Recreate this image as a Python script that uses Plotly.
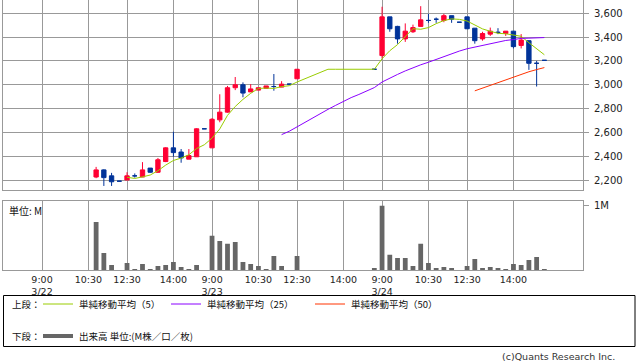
import plotly.graph_objects as go
import pandas as pd

# ---- data (15-minute bars; slot 0 = 3/22 9:00, 22 slots per day) ----
bar_slot = [7, 8, 9, 10, 11, 12, 13, 14, 15, 16, 17, 18, 19, 20, 21,
            22, 23, 24, 25, 26, 27, 28, 29, 30, 31, 32, 33,
            43,
            44, 45, 46, 47, 48, 49, 50, 51, 52, 53, 54, 55, 56, 57, 58, 59, 60, 61, 62, 63, 64, 65]
open_ = [2225, 2285, 2235, 2190, 2200, 2235, 2225, 2300, 2265, 2355, 2470, 2435, 2375, 2395, 2630,
         2470, 2705, 2770, 2975, 3000, 2940, 2955, 2970, 2985, 2980, 3005, 3050,
         3130,
         3245, 3570, 3490, 3385, 3445, 3490, 3540, 3550, 3540, 3580, 3525, 3570, 3475, 3385, 3425, 3440, 3430, 3450, 3330, 3370, 3180, 3205]
high = [2310, 2290, 2260, 2190, 2265, 2255, 2350, 2300, 2385, 2475, 2605, 2460, 2460, 2635, 2630,
        2720, 2920, 2990, 3065, 3020, 3005, 2975, 2990, 3090, 3030, 3005, 3130,
        3130,
        3655, 3570, 3495, 3515, 3505, 3660, 3595, 3565, 3595, 3580, 3525, 3570, 3475, 3445, 3480, 3475, 3450, 3450, 3425, 3375, 3200, 3205]
low = [2215, 2150, 2150, 2190, 2200, 2220, 2225, 2260, 2260, 2350, 2395, 2345, 2375, 2395, 2630,
       2470, 2685, 2765, 2955, 2895, 2940, 2955, 2970, 2950, 2980, 3005, 3050,
       3130,
       3220, 3445, 3345, 3360, 3435, 3490, 3520, 3520, 3525, 3520, 3525, 3470, 3345, 3370, 3410, 3425, 3410, 3305, 3305, 3125, 2985, 3205]
close = [2285, 2220, 2185, 2190, 2235, 2235, 2285, 2265, 2370, 2470, 2430, 2385, 2405, 2630, 2630,
         2710, 2770, 2975, 3000, 2930, 2965, 2975, 2990, 2985, 3005, 3005, 3130,
         3130,
         3570, 3470, 3385, 3450, 3480, 3545, 3540, 3550, 3580, 3550, 3525, 3470, 3370, 3430, 3450, 3440, 3450, 3320, 3375, 3180, 3180, 3205]
volume = [0.75, 0.27, 0.083, 0.005, 0.114, 0.02, 0.098, 0.02, 0.067, 0.083, 0.13, 0.052, 0.02, 0.083, 0.005,
          0.534, 0.456, 0.41, 0.44, 0.13, 0.098, 0.067, 0.02, 0.223, 0.067, 0.005, 0.223,
          0.036,
          1.0, 0.24, 0.19, 0.19, 0.067, 0.41, 0.114, 0.036, 0.052, 0.036, 0.005, 0.067, 0.176, 0.036, 0.052, 0.036, 0.02, 0.098, 0.083, 0.16, 0.207, 0.02]

tick_slots = [0, 6, 11, 17, 22, 28, 33, 39, 44, 50, 55, 61]
tick_text = ["9:00<br>3/22", "10:30", "12:30", "14:00", "9:00<br>3/23", "10:30", "12:30", "14:00",
             "9:00<br>3/24", "10:30", "12:30", "14:00"]
price_ticks = [2200, 2400, 2600, 2800, 3000, 3200, 3400, 3600]
price_tick_text = ["2,200", "2,400", "2,600", "2,800", "3,000", "3,200", "3,400", "3,600"]
ma_periods = [5, 25, 50]
ma_colors = ["#99CC00", "#8A00FF", "#FF3300"]
ma_labels = ["単純移動平均（5）", "単純移動平均（25）", "単純移動平均（50）"]

RED = "#FF0033"
BLUE = "#003399"
GRID = "#999999"
W, H = 638, 362


def px(x):
    return x / W


def py(y):
    return 1 - y / H


df = pd.DataFrame(dict(slot=bar_slot, o=open_, h=high, l=low, c=close, v=volume))
full = pd.Series(index=range(min(bar_slot), max(bar_slot) + 1), dtype=float)
full.loc[df.slot] = df.c.values
full = full.ffill()

fig = go.Figure()

up = df[df.c > df.o]
dn = df[df.c <= df.o]
for sub, col in ((up, RED), (dn, BLUE)):
    fig.add_trace(go.Candlestick(
        x=sub.slot, open=sub.o, high=sub.h, low=sub.l, close=sub.c,
        increasing=dict(line=dict(color=col, width=1), fillcolor=col),
        decreasing=dict(line=dict(color=col, width=1), fillcolor=col),
        whiskerwidth=0, xaxis="x", yaxis="y", hoverinfo="skip"))

for p, col in zip(ma_periods, ma_colors):
    ma = full.rolling(p).mean()
    fig.add_trace(go.Scatter(x=list(full.index), y=ma.values, mode="lines",
                             line=dict(color=col, width=1), xaxis="x", yaxis="y",
                             hoverinfo="skip"))

fig.add_trace(go.Bar(x=df.slot, y=df.v, width=0.62, marker=dict(color="#666666", line=dict(width=0)),
                     xaxis="x2", yaxis="y2", hoverinfo="skip"))

xr = [-5.05, 70.0]
tfont = dict(family="DejaVu Sans", size=10, color="#222222")
common_x = dict(domain=[px(3), px(583)], range=xr, tickvals=tick_slots, showgrid=True,
                gridcolor=GRID, gridwidth=1, zeroline=False, showline=True, linecolor=GRID,
                linewidth=1, fixedrange=True, rangeslider=dict(visible=False))

fig.update_layout(
    width=W, height=H, autosize=False,
    margin=dict(l=0, r=0, t=0, b=0),
    paper_bgcolor="white", plot_bgcolor="white",
    showlegend=False, boxgap=0.2,
    xaxis=dict(**common_x, anchor="y", showticklabels=False, ticks=""),
    yaxis=dict(domain=[py(190.3), 1], range=[2113.5, 3711.7], side="right", anchor="x",
               tickvals=price_ticks, ticktext=price_tick_text, showgrid=True, gridcolor=GRID,
               gridwidth=1, zeroline=False, showline=True, mirror=True, linecolor=GRID,
               ticks="outside", ticklen=5, tickcolor=GRID, tickfont=tfont, ticklabelstandoff=3,
               fixedrange=True),
    xaxis2=dict(**common_x, anchor="y2", ticktext=tick_text, ticks="", mirror=True,
                tickfont=dict(family="DejaVu Sans", size=9.5, color="#222222")),
    yaxis2=dict(domain=[py(270.3), py(201.3)], range=[0, 1.07], side="right", anchor="x2",
                tickvals=[1], ticktext=["1M"], showgrid=False, zeroline=False, showline=True,
                mirror=True, linecolor=GRID, ticks="outside", ticklen=5, tickcolor=GRID,
                tickfont=tfont, ticklabelstandoff=3, fixedrange=True),
)

shapes = [dict(type="rect", xref="paper", yref="paper", x0=px(3.5), x1=px(635), y0=py(295.5), y1=py(346.5),
               line=dict(color="black", width=1), fillcolor="rgba(0,0,0,0)")]
legend_x = [(43, 73), (171, 201), (315, 345)]
for (a, b), col in zip(legend_x, ma_colors):
    shapes.append(dict(type="line", xref="paper", yref="paper", x0=px(a), x1=px(b), y0=py(304), y1=py(304),
                       line=dict(color=col, width=1)))
shapes.append(dict(type="line", xref="paper", yref="paper", x0=px(43), x1=px(73), y0=py(336), y1=py(336),
                   line=dict(color="#666666", width=4)))
fig.update_layout(shapes=shapes)

jfont = dict(family="Noto Sans CJK JP", size=9.5, color="#111111")
ann = []


def add_text(x, y, text, font, xanchor="left"):
    ann.append(dict(x=px(x), y=py(y), xref="paper", yref="paper", text=text, showarrow=False,
                    xanchor=xanchor, yanchor="middle", font=font))


add_text(10, 304, "上段：", jfont)
for (a, b), lab in zip(legend_x, ma_labels):
    add_text(b + 4, 304, lab, jfont)
add_text(10, 336, "下段：", jfont)
add_text(77, 336, "出来高 単位:(M株／口／枚)", jfont)
add_text(7, 210, "単位: M", dict(family="Noto Sans CJK JP", size=10, color="#111111"))
add_text(617, 356, "(c)Quants Research Inc.", dict(family="DejaVu Sans", size=9.5, color="#333333"),
         xanchor="right")
fig.update_layout(annotations=ann)

fig.write_html("out.html", config={"displayModeBar": False, "staticPlot": True},
               post_script="document.body.style.margin='0px';document.body.style.overflow='hidden';")
